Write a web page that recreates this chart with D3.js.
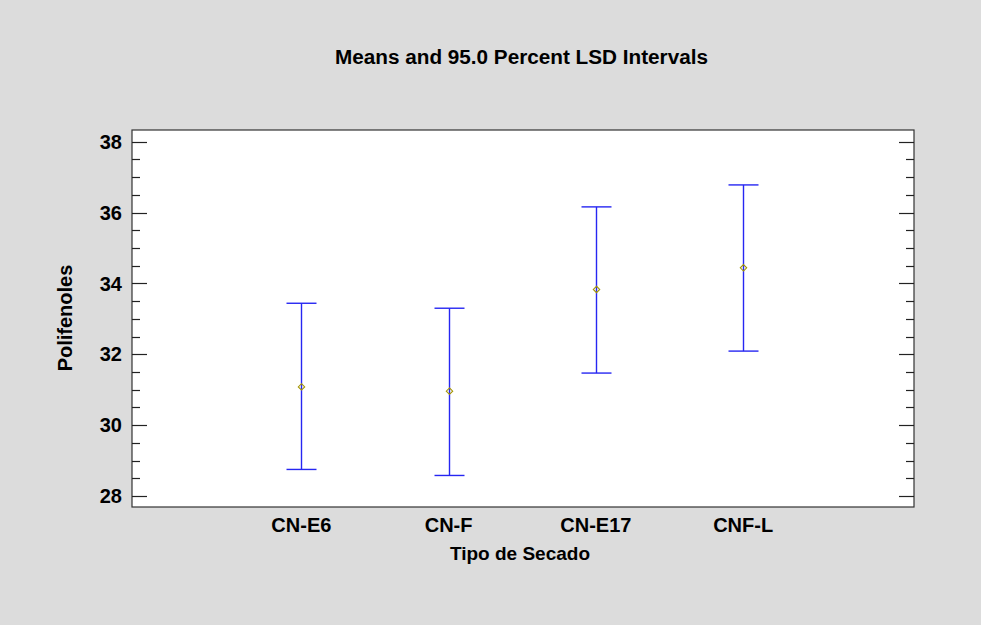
<!doctype html>
<meta charset="utf-8" />
<style>
    body { margin: 0; background: #DCDCDC; }
    text { font-family: Arial, "Liberation Sans", sans-serif; font-weight: bold; fill: #000; }
</style>
<svg></svg>
<script src="https://cdn.jsdelivr.net/npm/d3@7"></script>
<script>
    // data
    var groups = ['CN-E6', 'CN-F', 'CN-E17', 'CNF-L'];
    var means = [31.08, 30.96, 33.83, 34.44];
    var lower = [28.75, 28.58, 31.47, 32.09];
    var upper = [33.44, 33.30, 36.16, 36.78];
    var yTicks = [28, 30, 32, 34, 36, 38];

    var W = 981, H = 625;
    var box = { left: 132, top: 130, right: 914, bottom: 507 };

    var svg = d3.select('svg')
        .attr('width', W)
        .attr('height', H)

    svg.append('rect')
        .attr('width', W)
        .attr('height', H)
        .style('fill', '#DCDCDC')

    var x = d3.scaleLinear()
        .domain([-1.15, 4.16])
        .range([box.left, box.right]);
    var y = d3.scaleLinear()
        .domain([27.69, 38.33])
        .range([box.bottom, box.top]);

    svg.append('rect')
        .attr('x', box.left)
        .attr('y', box.top)
        .attr('width', box.right - box.left)
        .attr('height', box.bottom - box.top)
        .style('fill', 'white')
        .style('stroke', '#333')
        .style('stroke-width', 1.2)

    // y ticks on both sides
    var minor = d3.range(28, 38.01, 0.5).filter(v => yTicks.indexOf(v) < 0);
    var g = svg.append('g').style('stroke', '#222').style('stroke-width', 1.2);
    yTicks.forEach(function (v) {
        var yy = Math.round(y(v)) + 0.5;
        g.append('line').attr('x1', box.left).attr('x2', box.left + 15).attr('y1', yy).attr('y2', yy);
        g.append('line').attr('x1', box.right - 15).attr('x2', box.right).attr('y1', yy).attr('y2', yy);
    });
    minor.forEach(function (v) {
        var yy = Math.round(y(v)) + 0.5;
        g.append('line').attr('x1', box.left).attr('x2', box.left + 8).attr('y1', yy).attr('y2', yy);
        g.append('line').attr('x1', box.right - 8).attr('x2', box.right).attr('y1', yy).attr('y2', yy);
    });

    svg.selectAll('.ylab')
        .data(yTicks)
        .enter().append('text')
        .attr('x', box.left - 10)
        .attr('y', d => y(d))
        .attr('dy', '0.36em')
        .attr('text-anchor', 'end')
        .style('font-size', '20px')
        .text(d => d);

    svg.selectAll('.xlab')
        .data(groups)
        .enter().append('text')
        .attr('x', (d, i) => x(i))
        .attr('y', 532)
        .attr('text-anchor', 'middle')
        .style('font-size', '20px')
        .text(d => d);

    // intervals
    var bars = svg.append('g').style('stroke', '#2626F2').style('stroke-width', 1.4);
    groups.forEach(function (d, i) {
        var cx = Math.round(x(i)) + 0.5;
        bars.append('line').attr('x1', cx).attr('x2', cx).attr('y1', y(upper[i])).attr('y2', y(lower[i]));
        bars.append('line').attr('x1', cx - 15).attr('x2', cx + 15).attr('y1', y(upper[i])).attr('y2', y(upper[i]));
        bars.append('line').attr('x1', cx - 15).attr('x2', cx + 15).attr('y1', y(lower[i])).attr('y2', y(lower[i]));
    });

    svg.selectAll('.mean')
        .data(means)
        .enter().append('path')
        .attr('d', d3.symbol(d3.symbolDiamond2, 26))
        .attr('transform', (d, i) => 'translate(' + (Math.round(x(i)) + 0.5) + ',' + y(d) + ')')
        .style('fill', 'none')
        .style('stroke', '#A49400')
        .style('stroke-width', 1.1)

    svg.append('text')
        .attr('x', 521.5)
        .attr('y', 64)
        .attr('text-anchor', 'middle')
        .attr('textLength', 373)
        .attr('lengthAdjust', 'spacingAndGlyphs')
        .style('font-size', '19.5px')
        .text('Means and 95.0 Percent LSD Intervals');

    svg.append('text')
        .attr('x', 520)
        .attr('y', 560)
        .attr('text-anchor', 'middle')
        .style('font-size', '19px')
        .text('Tipo de Secado');

    svg.append('text')
        .attr('transform', 'translate(72,' + 318 + ') rotate(-90)')
        .attr('text-anchor', 'middle')
        .style('font-size', '20px')
        .text('Polifenoles');
</script>
